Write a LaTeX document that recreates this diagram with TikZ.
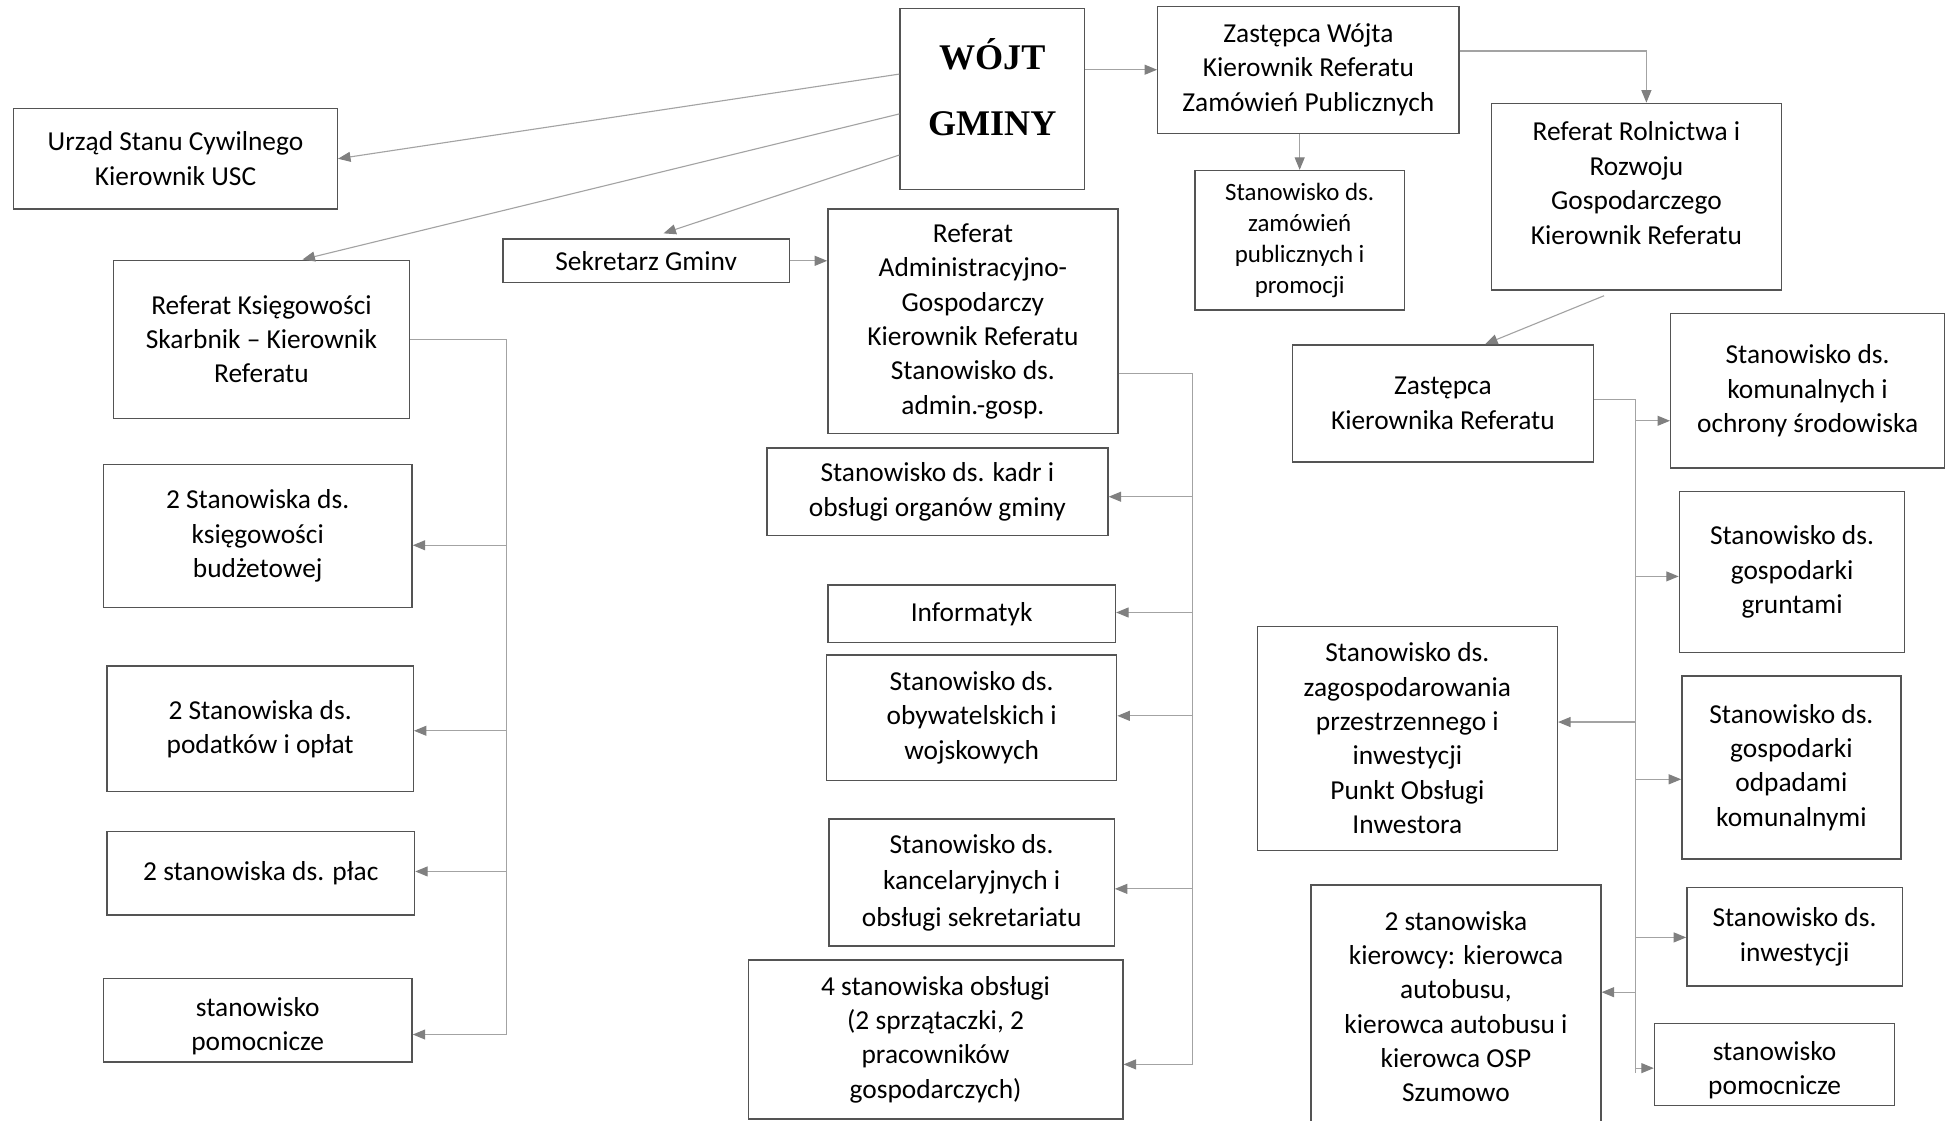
\documentclass[tikz,border=0pt]{standalone}
\usepackage{fontspec}
\setmainfont{Carlito}
\newfontfamily\titlefont{Liberation Serif}
\usetikzlibrary{arrows.meta}
\definecolor{ramka}{gray}{0.33}
\definecolor{linia}{gray}{0.64}
\definecolor{grot}{gray}{0.50}

\begin{document}
\begin{tikzpicture}[x=1pt, y=-1pt,
    box/.style={draw=ramka, line width=1.1pt, align=center, inner sep=0pt,
        font=\fontsize{22}{27.6}\selectfont},
    small/.style={font=\fontsize{20}{25}\selectfont},
    bus/.style={draw=linia, line width=0.9pt},
    link/.style={bus, -{Triangle[length=10pt,width=8pt,color=grot]}}]
    \useasboundingbox (0,0) rectangle (1568,900);
    % Top
    \node[box, minimum width=148pt, minimum height=145pt, text depth=20pt,
        font=\titlefont\bfseries\fontsize{29}{53}\selectfont] (wojt) at (797,79.5) {WÓJT\\GMINY};
    \node[box, minimum width=242pt, minimum height=102pt] (zw) at (1051,56) {Zastępca Wójta\\Kierownik Referatu\\Zamówień Publicznych};
    \node[box, minimum width=260pt, minimum height=81pt] (usc) at (141,127.5) {Urząd Stanu Cywilnego\\Kierownik USC};
    \node[box, minimum width=238pt, minimum height=127pt] (rk) at (210,272.5) {Referat Księgowości\\Skarbnik -- Kierownik\\Referatu};
    \node[box, minimum width=230pt, minimum height=35pt] (sek) at (519,209.5) {Sekretarz Gminv};
    \node[box, minimum width=233pt, minimum height=180pt] (rag) at (781.5,258) {Referat\\Administracyjno-\\Gospodarczy\\Kierownik Referatu\\Stanowisko ds.\\admin.-gosp.};
    \node[box, small, minimum width=168pt, minimum height=112pt] (zam) at (1044,193) {Stanowisko ds.\\zamówień\\publicznych i\\promocji};
    \node[box, minimum width=233pt, minimum height=150pt, text depth=22pt] (rr) at (1314.5,158) {Referat Rolnictwa i\\Rozwoju\\Gospodarczego\\Kierownik Referatu};
    \node[box, minimum width=242pt, minimum height=94pt] (zkr) at (1159,324) {Zastępca\\Kierownika Referatu};
    \node[box, minimum width=220pt, minimum height=124pt] (kom) at (1452,314) {Stanowisko ds.\\komunalnych i\\ochrony środowiska};
    % Left column
    \node[box, minimum width=248pt, minimum height=115pt] (ksb) at (207,430.5) {2 Stanowiska ds.\\księgowości\\budżetowej};
    \node[box, minimum width=246pt, minimum height=101pt] (pod) at (209,585.5) {2 Stanowiska ds.\\podatków i opłat};
    \node[box, minimum width=247pt, minimum height=67pt] (plac) at (209.5,701.5) {2 stanowiska ds. płac};
    \node[box, minimum width=248pt, minimum height=67pt, text height=52pt] (pom1) at (207,819.5) {stanowisko\\pomocnicze};
    % Middle column
    \node[box, minimum width=274pt, minimum height=70pt] (kadr) at (753,395) {Stanowisko ds. kadr i\\obsługi organów gminy};
    \node[box, minimum width=231pt, minimum height=46pt] (inf) at (780.5,493) {Informatyk};
    \node[box, minimum width=233pt, minimum height=101pt] (oby) at (780.5,576.5) {Stanowisko ds.\\obywatelskich i\\wojskowych};
    \node[box, minimum width=229pt, minimum height=102pt, font=\fontsize{22}{29.5}\selectfont] (kanc) at (780.5,709) {Stanowisko ds.\\kancelaryjnych i\\obsługi sekretariatu};
    \node[box, minimum width=301pt, minimum height=128pt] (obs) at (751.5,835) {4 stanowiska obsługi\\(2 sprzątaczki, 2\\pracowników\\gospodarczych)};
    % Right column
    \node[box, minimum width=181pt, minimum height=129pt] (grun) at (1439.5,459.5) {Stanowisko ds.\\gospodarki\\gruntami};
    \node[box, minimum width=241pt, minimum height=180pt] (zag) at (1130.5,593) {Stanowisko ds.\\zagospodarowania\\przestrzennego i\\inwestycji\\Punkt Obsługi\\Inwestora};
    \node[box, minimum width=176pt, minimum height=147pt] (odp) at (1439,616.5) {Stanowisko ds.\\gospodarki\\odpadami\\komunalnymi};
    \node[box, minimum width=173pt, minimum height=79pt] (inw) at (1441.5,752.5) {Stanowisko ds.\\inwestycji};
    \node[box, minimum width=233pt, minimum height=195pt] (kier) at (1169.5,808.5) {2 stanowiska\\kierowcy: kierowca\\autobusu,\\kierowca autobusu i\\kierowca OSP\\Szumowo};
    \node[box, minimum width=193pt, minimum height=66pt, text height=52pt] (pom2) at (1425.5,855) {stanowisko\\pomocnicze};
    % Coordinate
    \coordinate (k1) at (407,438);
    \coordinate (k2) at (407,587);
    \coordinate (k3) at (407,700);
    \coordinate (k4) at (407,831);
    \coordinate (atop) at (958,300);
    \coordinate (a1) at (958,399);
    \coordinate (a2) at (958,492);
    \coordinate (a3) at (958,575);
    \coordinate (a4) at (958,714);
    \coordinate (a5) at (958,855);
    \coordinate (rtop) at (1314,321);
    \coordinate (r1) at (1314,338);
    \coordinate (r2) at (1314,463);
    \coordinate (r3) at (1314,580);
    \coordinate (r4) at (1314,626);
    \coordinate (r5) at (1314,753);
    \coordinate (r6) at (1314,797);
    \coordinate (r7) at (1314,858);
    % Linee from Wojt
    \draw[link] ([yshift=20pt]wojt.west) -- (usc.east);
    \draw[link] ([yshift=-12pt]wojt.west) -- ([xshift=33pt]rk.north);
    \draw[link] ([yshift=-45pt]wojt.west) -- ([xshift=14pt,yshift=4pt]sek.north);
    \draw[link] (wojt.east |- zw.west) -- (zw.west);
    \draw[link] (sek.east) -- (rag.west |- sek.east);
    \draw[link] (zw.south -| zam.north) -- (zam.north);
    \draw[link] ([yshift=15pt]zw.east) -| ([xshift=8pt]rr.north);
    \draw[link] ([xshift=-26pt,yshift=-4pt]rr.south) -- ([xshift=34pt]zkr.north);
    % Ksiegowosc
    \draw[bus] (rk.east) -- (rk.east -| k1) -- (k4);
    \draw[link] (k1) -- (k1 -| ksb.east);
    \draw[link] (k2) -- (k2 -| pod.east);
    \draw[link] (k3) -- (k3 -| plac.east);
    \draw[link] (k4) -- (k4 -| pom1.east);
    % Administracja
    \draw[bus] (rag.east |- atop) -- (atop) -- (a5);
    \draw[link] (a1) -- (a1 -| kadr.east);
    \draw[link] (a2) -- (a2 -| inf.east);
    \draw[link] (a3) -- (a3 -| oby.east);
    \draw[link] (a4) -- (a4 -| kanc.east);
    \draw[link] (a5) -- (a5 -| obs.east);
    % Rolnictwo
    \draw[bus] (zkr.east |- rtop) -- (rtop) -- ([yshift=-4pt]r7);
    \draw[link] (r1) -- (r1 -| kom.west);
    \draw[link] (r2) -- (r2 -| grun.west);
    \draw[link] (r3) -- (r3 -| zag.east);
    \draw[link] (r4) -- (r4 -| odp.west);
    \draw[link] (r5) -- (r5 -| inw.west);
    \draw[link] (r6) -- (r6 -| kier.east);
    \draw[link] (r7) -- (r7 -| pom2.west);
\end{tikzpicture}
\end{document}
